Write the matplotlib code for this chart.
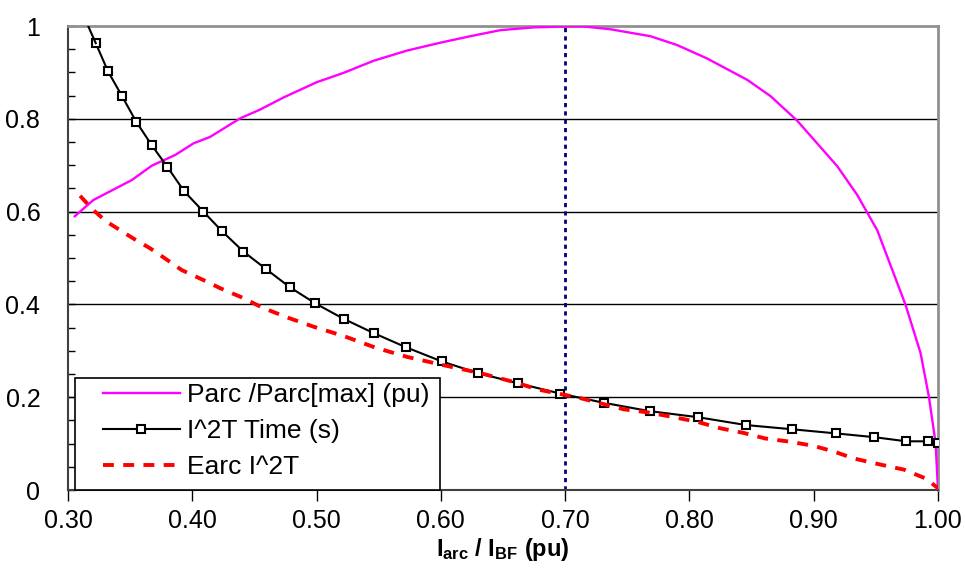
import numpy as np
import matplotlib
matplotlib.use('Agg')
import matplotlib.pyplot as plt
from matplotlib.ticker import MultipleLocator
from matplotlib.patches import Rectangle

plt.rcParams['font.family'] = ['Liberation Sans', 'DejaVu Sans']
plt.rcParams['mathtext.fontset'] = 'custom'
plt.rcParams['mathtext.rm'] = 'Liberation Sans'
plt.rcParams['mathtext.bf'] = 'Liberation Sans:bold'

# Parc / Parc[max] (pu)
parc_x = [0.3054, 0.3204, 0.3513, 0.3674, 0.3862, 0.4009, 0.4143, 0.4385, 0.4546, 0.4734,
          0.5002, 0.5217, 0.5458, 0.5727, 0.5995, 0.6237, 0.6478, 0.6746, 0.7015, 0.7149,
          0.7364, 0.7686, 0.7901, 0.8142, 0.8465, 0.8652, 0.8867, 0.9189, 0.9350, 0.9511,
          0.9739, 0.9860, 0.9927, 0.9981, 1.0]
parc_y = [0.590, 0.625, 0.668, 0.699, 0.722, 0.747, 0.761, 0.801, 0.820, 0.846,
          0.879, 0.899, 0.925, 0.947, 0.964, 0.978, 0.991, 0.997, 0.999, 0.999,
          0.993, 0.978, 0.959, 0.930, 0.884, 0.849, 0.796, 0.698, 0.636, 0.560,
          0.399, 0.295, 0.201, 0.101, 0.0]

# I^2T Time (s)
t_x = [0.3124, 0.3223, 0.3322, 0.3432, 0.3548, 0.3674, 0.3800, 0.3934, 0.4089, 0.4238,
       0.4411, 0.4594, 0.4785, 0.4991, 0.5217, 0.5461, 0.5716, 0.6009, 0.6299, 0.6621,
       0.6959, 0.7310, 0.7680, 0.8067, 0.8456, 0.8824, 0.9181, 0.9484, 0.9745, 0.9922, 0.9999]
t_y = [1.023, 0.963, 0.902, 0.850, 0.794, 0.743, 0.696, 0.644, 0.600, 0.558,
       0.514, 0.476, 0.437, 0.402, 0.369, 0.338, 0.308, 0.277, 0.252, 0.230,
       0.208, 0.188, 0.170, 0.157, 0.140, 0.131, 0.122, 0.114, 0.105, 0.105, 0.102]

# Earc I^2T
e_x = [0.3097, 0.3204, 0.3312, 0.3419, 0.3526, 0.3660, 0.3781, 0.3915, 0.4077, 0.4224,
       0.4399, 0.4573, 0.4774, 0.4975, 0.5217, 0.5472, 0.5727, 0.6022, 0.6317, 0.6613,
       0.6774, 0.7109, 0.7471, 0.7673, 0.7874, 0.8062, 0.8250, 0.8437, 0.8612, 0.8813,
       0.9001, 0.9162, 0.9323, 0.9551, 0.9726, 0.9900, 1.0]
e_y = [0.634, 0.603, 0.578, 0.560, 0.542, 0.521, 0.499, 0.474, 0.454, 0.435,
       0.415, 0.392, 0.371, 0.352, 0.332, 0.307, 0.287, 0.269, 0.252, 0.231,
       0.217, 0.199, 0.174, 0.167, 0.157, 0.147, 0.133, 0.123, 0.111, 0.104,
       0.095, 0.083, 0.068, 0.054, 0.044, 0.025, 0.004]

x_ticks = [0.30, 0.40, 0.50, 0.60, 0.70, 0.80, 0.90, 1.00]
y_ticks = [0, 0.2, 0.4, 0.6, 0.8, 1]
y_labels = ['0', '0.2', '0.4', '0.6', '0.8', '1']
peak_x = 0.70

fig = plt.figure(figsize=(9.65, 5.74), dpi=100)
ax = fig.add_axes([0.0705, 0.1463, 0.9015, 0.8084])

for yv in y_ticks[1:-1]:
    ax.axhline(yv, color='black', lw=1.0, zorder=1)
ax.plot([peak_x, peak_x], [0, 1], color='#000080', lw=2, ls=(0, (1.5, 1.5)), zorder=2)

ax.plot(parc_x, parc_y, color='#FF00FF', lw=1.7, label='Parc /Parc[max] (pu)', zorder=3)
ax.plot(t_x[1:], t_y[1:], color='black', lw=1.5, marker='s', ms=5.5, mfc='white',
        mec='black', mew=1.5, label='I^2T Time (s)', zorder=4)
ax.plot(t_x[:2], t_y[:2], color='black', lw=1.5, zorder=4)
ax.plot(e_x, e_y, color='red', lw=2.8, ls=(0, (2.8, 2.4)), label='Earc I^2T', zorder=5)

ax.set_xlim(0.30, 1.00)
ax.set_ylim(0, 1)
ax.set_xticks(x_ticks)
ax.set_xticklabels(['%.2f' % v for v in x_ticks], fontsize=18)
ax.set_yticks(y_ticks)
ax.set_yticklabels(y_labels, fontsize=18)
ax.yaxis.set_minor_locator(MultipleLocator(0.05))
ax.tick_params(axis='y', which='both', direction='in', length=5, width=1, pad=20)
ax.tick_params(axis='x', which='major', direction='out', length=8, width=1, pad=6)

for s in ['left', 'bottom']:
    ax.spines[s].set_color('#404040')
    ax.spines[s].set_linewidth(1.5)
for s in ['top', 'right']:
    ax.spines[s].set_color('#909090')
    ax.spines[s].set_linewidth(2)

ax.set_xlabel(r'$\mathbf{I_{arc}}$' + ' / ' + r'$\mathbf{I_{BF}}$' + ' (pu)',
              fontsize=17, fontweight='bold', labelpad=2)

# legend box drawn separately so the handles can sit further in
ax.add_patch(Rectangle((0.008, 0.0), 0.4196, 0.2414, transform=ax.transAxes,
                       facecolor='white', edgecolor='black', lw=1.2, zorder=8,
                       clip_on=False))
leg = ax.legend(loc='center left', bbox_to_anchor=(0.0402, 0.127), borderaxespad=0,
                borderpad=0, fontsize=19, frameon=False, handlelength=2.9,
                handletextpad=0.27, labelspacing=0.45)
leg.set_zorder(9)

fig.savefig('out.png', dpi=100)
